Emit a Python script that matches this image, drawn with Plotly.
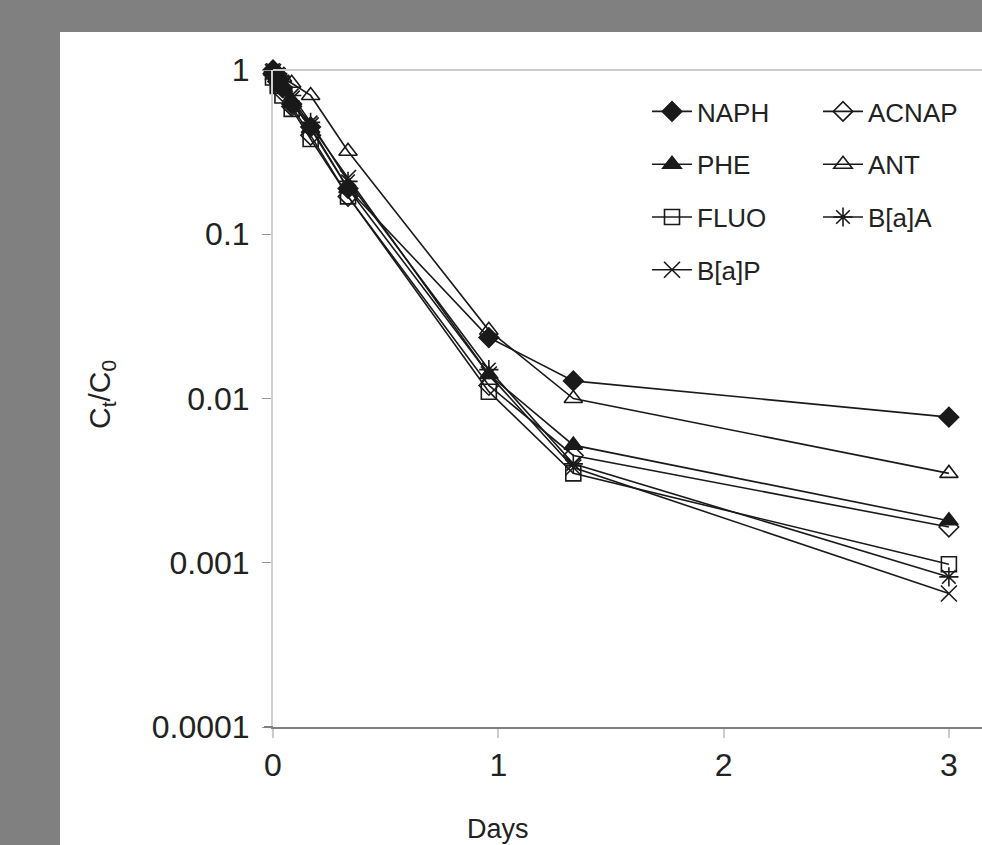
import plotly.graph_objects as go

days = [0, 0.021, 0.042, 0.083, 0.167, 0.333, 0.958, 1.333, 3]
series_names = ["NAPH", "ACNAP", "PHE", "ANT", "FLUO", "B[a]A", "B[a]P"]
NAPH = [1.0, 0.88, 0.78, 0.62, 0.45, 0.19, 0.0235, 0.0128, 0.0077]
ACNAP = [0.95, 0.85, 0.74, 0.60, 0.40, 0.17, 0.012, 0.0045, 0.00165]
PHE = [0.98, 0.90, 0.80, 0.65, 0.44, 0.19, 0.014, 0.0052, 0.0018]
ANT = [1.0, 0.95, 0.90, 0.83, 0.70, 0.32, 0.026, 0.0100, 0.0035]
FLUO = [0.90, 0.80, 0.70, 0.58, 0.38, 0.17, 0.011, 0.0035, 0.00098]
BaA = [1.0, 0.95, 0.85, 0.70, 0.48, 0.21, 0.015, 0.0040, 0.00082]
BaP = [0.97, 0.92, 0.82, 0.67, 0.46, 0.22, 0.014, 0.0038, 0.00065]
y_tickvals = [1, 0.1, 0.01, 0.001, 0.0001]
y_ticktext = ["1", "0.1", "0.01", "0.001", "0.0001"]
x_tickvals = [0, 1, 2, 3]

values = [NAPH, ACNAP, PHE, ANT, FLUO, BaA, BaP]
symbols = ["diamond", "diamond-open", "triangle-up", "triangle-up-open",
           "square-open", "asterisk-open", "x-thin-open"]
sizes = [15, 15, 16, 16, 15, 16, 16]
legends = ["legend", "legend2", "legend", "legend2", "legend", "legend2", "legend"]

W, H = 982, 845
L, R, T, B = 273, 0, 70, 118
pw, ph = W - L - R, H - T - B
def px_x(p):
    return (p - L) / pw
def px_y(p):
    return (H - B - p) / ph

fig = go.Figure()
for name, vals, sym, sz, lg in zip(series_names, values, symbols, sizes, legends):
    fig.add_trace(go.Scatter(
        x=days, y=vals, name=name, mode="lines+markers",
        line=dict(color="#1a1a1a", width=1.6),
        marker=dict(symbol=sym, size=sz, color="#1a1a1a",
                    line=dict(color="#1a1a1a", width=1.6)),
        cliponaxis=False, legend=lg, legendgroup=name,
    ))

font = dict(family="Liberation Sans, Arial, sans-serif", color="#222222")

fig.update_layout(
    width=W, height=H,
    margin=dict(l=L, r=R, t=T, b=B),
    paper_bgcolor="#808080",
    plot_bgcolor="white",
    font=dict(**font, size=26),
    showlegend=True,
    xaxis=dict(range=[0, pw / 225.3], tickvals=x_tickvals,
               showline=True, linecolor="#808080", linewidth=2,
               ticks="outside", ticklen=9, tickcolor="#cccccc", tickwidth=2,
               showgrid=False, zeroline=False, tickfont=dict(size=32)),
    yaxis=dict(type="log", range=[-4, 0], tickvals=y_tickvals, ticktext=y_ticktext,
               showline=True, linecolor="#d0d0d0", linewidth=2,
               ticks="outside", ticklen=9, tickcolor="#999999", tickwidth=1,
               showgrid=False, zeroline=False, tickfont=dict(size=32),
               ticklabelstandoff=6),
    legend=dict(x=px_x(647), y=px_y(88), xanchor="left", yanchor="top",
                bgcolor="rgba(0,0,0,0)", font=dict(size=26), tracegroupgap=16,
                itemwidth=40),
    legend2=dict(x=px_x(818), y=px_y(88), xanchor="left", yanchor="top",
                 bgcolor="rgba(0,0,0,0)", font=dict(size=26), tracegroupgap=16,
                 itemwidth=40),
    shapes=[
        dict(type="rect", xref="paper", yref="paper",
             x0=px_x(60), x1=1.01, y0=px_y(845) - 0.05, y1=px_y(32),
             fillcolor="white", line=dict(width=0), layer="below"),
        dict(type="line", xref="paper", yref="paper", x0=0, x1=1, y0=1, y1=1,
             line=dict(color="#cccccc", width=2)),
        dict(type="line", xref="paper", yref="paper", x0=px_x(264), x1=0, y0=0, y1=0,
             line=dict(color="#808080", width=2)),
    ],
    annotations=[
        dict(text="C<sub>t</sub>/C<sub>0</sub>", xref="paper", yref="paper",
             x=px_x(101), y=px_y(395), textangle=-90, showarrow=False,
             font=dict(size=30), xanchor="center", yanchor="middle"),
        dict(text="Days", xref="paper", yref="paper",
             x=px_x(498), y=px_y(829), showarrow=False,
             font=dict(size=27), xanchor="center", yanchor="middle"),
    ],
)

fig.write_html("out.html", config={"displayModeBar": False},
               post_script="document.body.style.margin='0';document.body.style.overflow='hidden';")
